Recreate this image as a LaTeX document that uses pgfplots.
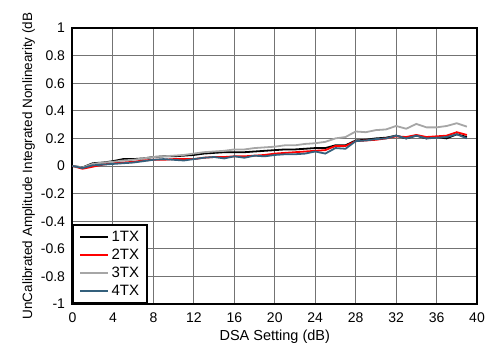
\documentclass[border=0pt]{standalone}
\usepackage{pgfplots}
\pgfplotsset{compat=1.18}
\usepackage{fontspec}
\setmainfont{Liberation Sans}
\definecolor{c4}{RGB}{52,96,124}
\begin{document}
\begin{tikzpicture}[x=1pt,y=1pt]
\useasboundingbox (-72.5,-44) rectangle (416.5,304);
\begin{axis}[
  at={(0,0)}, anchor=south west,
  scale only axis, width=404.5pt, height=276pt,
  xmin=0, xmax=40, ymin=-1, ymax=1,
  xtick={0,4,...,40}, ytick={-1,-0.8,...,1.01},
  yticklabels={-1,-0.8,-0.6,-0.4,-0.2,0,0.2,0.4,0.6,0.8,1},
  grid=major, major grid style={color=black!55, line width=1pt},
  axis line style={line width=2pt},
  major tick length=0pt,
  ticklabel style={font=\fontsize{14}{16}\selectfont},
  xticklabel style={yshift=-5pt},
  yticklabel style={xshift=-4pt},
  /pgf/number format/assume math mode=true,
  xlabel={DSA Setting (dB)},
  ylabel={UnCalibrated Amplitude Integrated Nonlinearity (dB},
  xlabel style={font=\fontsize{14.5}{16}\selectfont, at={(axis description cs:0.5,0)}, anchor=center, yshift=-33pt},
  ylabel style={font=\fontsize{13.5}{15}\selectfont, yshift=-1pt},
  legend style={at={(0,0)}, anchor=south west, draw=black, line width=2pt,
    font=\fontsize{15}{16}\selectfont, row sep=2pt, inner xsep=6pt, inner ysep=4pt,
    cells={anchor=west}},
  legend cell align=left,
  legend image code/.code={\draw[#1, line width=2pt] (0pt,0pt) -- (28pt,0pt);},
  every axis plot/.append style={line width=1.8pt},
]
\addplot[color=black] coordinates {
(0,0) (1,-0.01) (2,0.02) (3,0.025) (4,0.035) (5,0.05) (6,0.05) (7,0.055) (8,0.065) (9,0.07) (10,0.07) (11,0.075) (12,0.08) (13,0.09) (14,0.095) (15,0.1) (16,0.1) (17,0.1) (18,0.105) (19,0.11) (20,0.115) (21,0.12) (22,0.12) (23,0.125) (24,0.13) (25,0.13) (26,0.15) (27,0.15) (28,0.185) (29,0.19) (30,0.2) (31,0.205) (32,0.22) (33,0.2) (34,0.22) (35,0.2) (36,0.21) (37,0.2) (38,0.23) (39,0.21)};
\addplot[color=red] coordinates {
(0,0) (1,-0.02) (2,-0.005) (3,0.01) (4,0.02) (5,0.025) (6,0.03) (7,0.04) (8,0.045) (9,0.045) (10,0.05) (11,0.05) (12,0.05) (13,0.06) (14,0.065) (15,0.065) (16,0.07) (17,0.07) (18,0.075) (19,0.08) (20,0.09) (21,0.095) (22,0.1) (23,0.105) (24,0.11) (25,0.115) (26,0.145) (27,0.145) (28,0.18) (29,0.185) (30,0.19) (31,0.2) (32,0.215) (33,0.21) (34,0.225) (35,0.21) (36,0.215) (37,0.22) (38,0.245) (39,0.225)};
\addplot[color=black!35] coordinates {
(0,0) (1,-0.01) (2,0.015) (3,0.025) (4,0.03) (5,0.04) (6,0.045) (7,0.055) (8,0.065) (9,0.07) (10,0.075) (11,0.08) (12,0.09) (13,0.1) (14,0.105) (15,0.11) (16,0.12) (17,0.12) (18,0.13) (19,0.135) (20,0.14) (21,0.15) (22,0.15) (23,0.16) (24,0.165) (25,0.175) (26,0.2) (27,0.21) (28,0.25) (29,0.245) (30,0.26) (31,0.265) (32,0.29) (33,0.27) (34,0.305) (35,0.28) (36,0.28) (37,0.29) (38,0.31) (39,0.285)};
\addplot[color=c4] coordinates {
(0,0) (1,-0.015) (2,0.005) (3,0.01) (4,0.015) (5,0.02) (6,0.025) (7,0.035) (8,0.045) (9,0.05) (10,0.045) (11,0.04) (12,0.05) (13,0.06) (14,0.065) (15,0.055) (16,0.07) (17,0.06) (18,0.075) (19,0.07) (20,0.08) (21,0.085) (22,0.085) (23,0.09) (24,0.105) (25,0.09) (26,0.13) (27,0.125) (28,0.18) (29,0.185) (30,0.195) (31,0.2) (32,0.22) (33,0.2) (34,0.22) (35,0.2) (36,0.205) (37,0.21) (38,0.23) (39,0.2)};
\legend{1TX,2TX,3TX,4TX}
\end{axis}
\end{tikzpicture}
\end{document}
